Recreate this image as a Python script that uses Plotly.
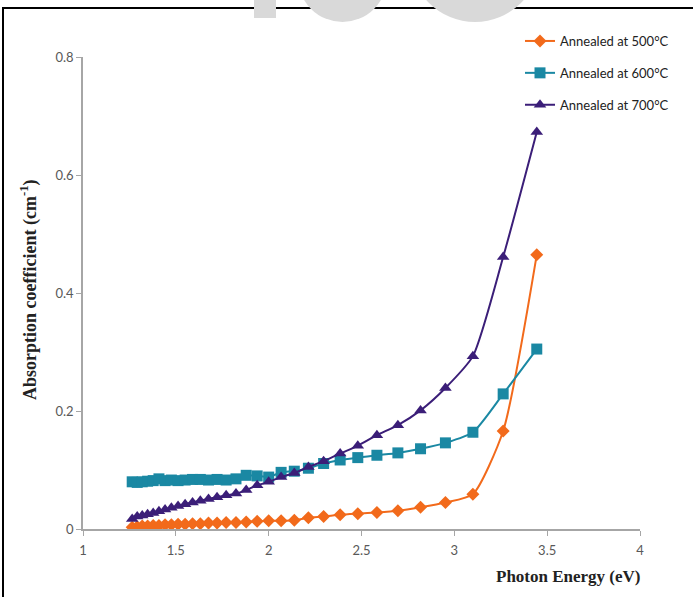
import plotly.graph_objects as go

energy = [1.265, 1.292, 1.319, 1.348, 1.378, 1.409, 1.442, 1.476, 1.512, 1.550,
          1.590, 1.632, 1.676, 1.722, 1.771, 1.824, 1.879, 1.938, 2.000, 2.067,
          2.138, 2.214, 2.296, 2.385, 2.480, 2.583, 2.696, 2.818, 2.952, 3.100,
          3.263, 3.444]

alpha_500 = [0.003, 0.004, 0.005, 0.005, 0.006, 0.006, 0.007, 0.007, 0.008, 0.008,
             0.009, 0.009, 0.010, 0.010, 0.011, 0.011, 0.012, 0.013, 0.014, 0.014,
             0.015, 0.019, 0.021, 0.024, 0.026, 0.028, 0.031, 0.037, 0.045, 0.059,
             0.166, 0.465]

alpha_600 = [0.080, 0.079, 0.080, 0.081, 0.082, 0.085, 0.082, 0.083, 0.082, 0.083,
             0.084, 0.084, 0.083, 0.084, 0.083, 0.085, 0.091, 0.090, 0.088, 0.096,
             0.098, 0.103, 0.111, 0.117, 0.121, 0.125, 0.129, 0.136, 0.146, 0.164,
             0.229, 0.305]

alpha_700 = [0.017, 0.021, 0.023, 0.025, 0.027, 0.030, 0.033, 0.036, 0.039, 0.042,
             0.045, 0.048, 0.051, 0.054, 0.057, 0.060, 0.066, 0.074, 0.080, 0.088,
             0.095, 0.105, 0.115, 0.128, 0.141, 0.159, 0.176, 0.201, 0.239, 0.293,
             0.461, 0.673]

series_names = ["Annealed at 500°C", "Annealed at 600°C", "Annealed at 700°C"]
x_ticks = [1, 1.5, 2, 2.5, 3, 3.5, 4]
x_tick_labels = ["1", "1.5", "2", "2.5", "3", "3.5", "4"]
y_ticks = [0, 0.2, 0.4, 0.6, 0.8]
y_tick_labels = ["0", "0.2", "0.4", "0.6", "0.8"]

colors = ["#F26A1B", "#1A88A3", "#3B1E78"]
symbols = ["diamond", "square", "triangle-up"]
sizes = [10, 11, 11]

fig = go.Figure()
for i, ys in enumerate([alpha_500, alpha_600, alpha_700]):
    fig.add_trace(go.Scatter(
        x=energy, y=ys, name=series_names[i], mode="lines+markers",
        legendgroup=f"g{i}",
        line=dict(color=colors[i], width=2, shape="spline", smoothing=0.6),
        marker=dict(symbol=symbols[i], size=sizes[i], color=colors[i]),
    ))

# plot area geometry (pixels)
L, R, T, B = 83, 640, 57, 529
W, H = 693, 597

def px(xp):
    return (xp - L) / (R - L)

def py(yp):
    return (B - yp) / (B - T)

shapes = [
    dict(type="rect", xref="paper", yref="paper",
         x0=px(3), x1=px(710), y0=py(620), y1=py(8),
         line=dict(color="black", width=2), fillcolor="rgba(0,0,0,0)", layer="above"),
    dict(type="rect", xref="paper", yref="paper",
         x0=px(254), x1=px(276), y0=py(18), y1=py(-5),
         line=dict(width=0), fillcolor="#D9D9D9", layer="above"),
    dict(type="circle", xref="paper", yref="paper",
         x0=px(298), x1=px(387), y0=py(22), y1=py(-67),
         line=dict(width=0), fillcolor="#D9D9D9", layer="above"),
    dict(type="circle", xref="paper", yref="paper",
         x0=px(410), x1=px(540), y0=py(22), y1=py(-108),
         line=dict(width=0), fillcolor="#D9D9D9", layer="above"),
]

annotations = [
    dict(text="<b>Absorption coefficient (cm<sup>-1</sup>)</b>", xref="paper", yref="paper",
         x=px(29), y=py(290), textangle=-90, showarrow=False,
         font=dict(family="Liberation Serif", size=18, color="#222222"),
         xanchor="center", yanchor="middle"),
    dict(text="<b>Photon Energy (eV)</b>", xref="paper", yref="paper",
         x=px(642), y=py(576), showarrow=False,
         font=dict(family="Liberation Serif", size=17, color="#222222"),
         xanchor="right", yanchor="middle"),
]

fig.update_layout(
    width=W, height=H,
    margin=dict(l=L, r=W - R, t=T, b=H - B, autoexpand=False),
    paper_bgcolor="white", plot_bgcolor="white",
    shapes=shapes, annotations=annotations,
    showlegend=True,
    legend=dict(x=px(520), y=py(26), xanchor="left", yanchor="top",
                font=dict(family="Lato", size=13, color="#222222"),
                tracegroupgap=12, bgcolor="rgba(0,0,0,0)", itemwidth=30),
    xaxis=dict(range=[1, 4], tickvals=x_ticks, ticktext=x_tick_labels,
               showgrid=False, zeroline=False, showline=True,
               linecolor="#A6A6A6", linewidth=1.5,
               ticks="outside", ticklen=5, tickcolor="#A6A6A6",
               ticklabelstandoff=4,
               tickfont=dict(family="Lato", size=13, color="#595959")),
    yaxis=dict(range=[0, 0.8], tickvals=y_ticks, ticktext=y_tick_labels,
               showgrid=False, zeroline=False, showline=True,
               linecolor="#A6A6A6", linewidth=1.5,
               ticks="outside", ticklen=5, tickcolor="#A6A6A6",
               tickfont=dict(family="Lato", size=13, color="#595959")),
)

fig.write_html("out.html")
